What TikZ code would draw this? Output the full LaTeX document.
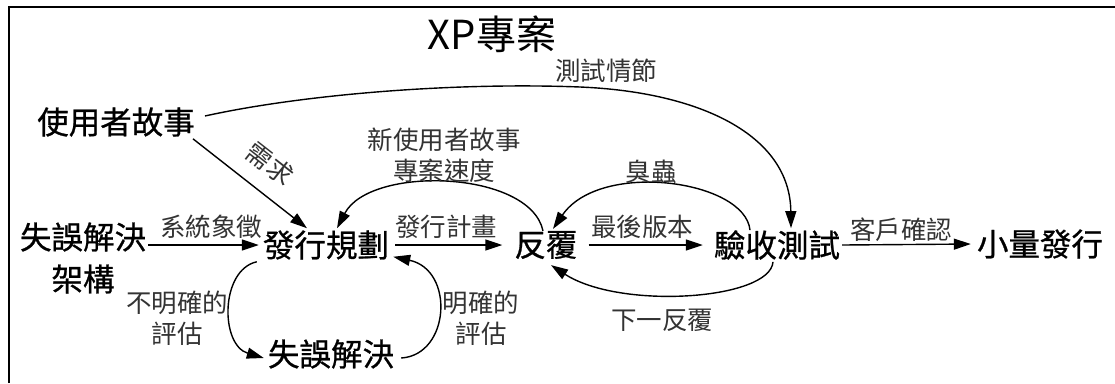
\documentclass[tikz,border=0pt]{standalone}
\usepackage{fontspec}
\setmainfont{Noto Sans CJK TC}
\newfontfamily\heavyfont[FakeBold=0.8]{Noto Sans CJK TC}
\usetikzlibrary{arrows.meta,calc}
\begin{document}
\begin{tikzpicture}[x=1pt,y=-1pt,
  main/.style={font=\heavyfont\fontsize{31.5}{42}\selectfont, inner sep=2pt},
  lab/.style={font=\fontsize{25.5}{31}\selectfont, text=black!80, inner sep=1pt},
  arr/.style={line width=1.4pt, -{Triangle[length=17pt,width=11pt]}}]
\useasboundingbox (0,0) rectangle (1115,383);
\draw[line width=2.5pt] (9,383) -- (9,7) -- (1115,7);

\node[inner sep=0pt, font=\fontsize{40}{44}\selectfont] (title) at (492,34) {XP專案};

\node[main] (us) at (116,122) {使用者故事};
\node[main, align=center] (arch) at (83,258) {失誤解決\\架構};
\node[main] (rp) at (326,245) {發行規劃};
\node[main] (it) at (546,245) {反覆};
\node[main] (at) at (777,245) {驗收測試};
\node[main] (sr) at (1040,244) {小量發行};
\node[main] (sp) at (331,354) {失誤解決};

% user stories -> acceptance tests
\draw[arr] ($(us.east)+(8,-6)$) .. controls (300,95) and (450,82) .. (580,87)
  .. controls (700,92) and (790,135) .. ($(at.north)+(14,0)$);
\node[lab] (l1) at (606,71) {測試情節};

% user stories -> release planning
\draw[arr] ($(us.south east)+(-4,0)$) -- ($(rp.north)+(-19,0)$);
\node[lab, rotate=-38] (l2) at (270,164) {需求};

% architectural spike -> release planning
\draw[arr, shorten >=2pt] (arch.east |- rp) -- (rp.west);
\node[lab] (l3) at (211,227) {系統象徵};

% release planning -> iteration
\draw[arr, shorten <=4pt, shorten >=10pt] (rp.east) -- (it.west);
\node[lab] (l4) at (446,227) {發行計畫};

% iteration -> acceptance tests
\draw[arr, shorten <=9pt, shorten >=9pt] (it.east) -- (at.west);
\node[lab] (l5) at (642,227) {最後版本};

% acceptance tests -> small releases
\draw[arr, shorten >=4pt] (at.east) -- (sr.west);
\node[lab] (l6) at (901,230) {客戶確認};

% iteration -> release planning
\draw[arr] ($(it.north)+(-3,2)$) .. controls (530,170) and (370,165) .. ($(rp.north)+(11,0)$);
\node[lab, align=center] (l7) at (444,155) {新使用者故事\\專案速度};

% acceptance tests -> iteration (bugs)
\draw[arr] ($(at.north)+(-27,2)$) .. controls (745,180) and (600,160) .. ($(it.north)+(7,0)$);
\node[lab] (l8) at (651,172) {臭蟲};

% acceptance tests -> iteration (next)
\draw[arr] ($(at.south)+(-4,0)$) .. controls (770,300) and (620,310) .. ($(it.south)+(5,4)$);
\node[lab] (l9) at (662,320) {下一反覆};

% release planning -> spike
\draw[arr] ($(rp.south west)+(-4,0)$) .. controls (220,270) and (220,345) .. ($(sp.west)+(-2,4)$);
\node[lab, align=center] (l10) at (177,318) {不明確的\\評估};

% spike -> release planning
\draw[arr] ($(sp.east)+(5,4)$) .. controls (450,355) and (455,270) .. ($(rp.south east)+(2,-5)$);
\node[lab, align=center] (l11) at (481,318) {明確的\\評估};
\end{tikzpicture}
\end{document}
